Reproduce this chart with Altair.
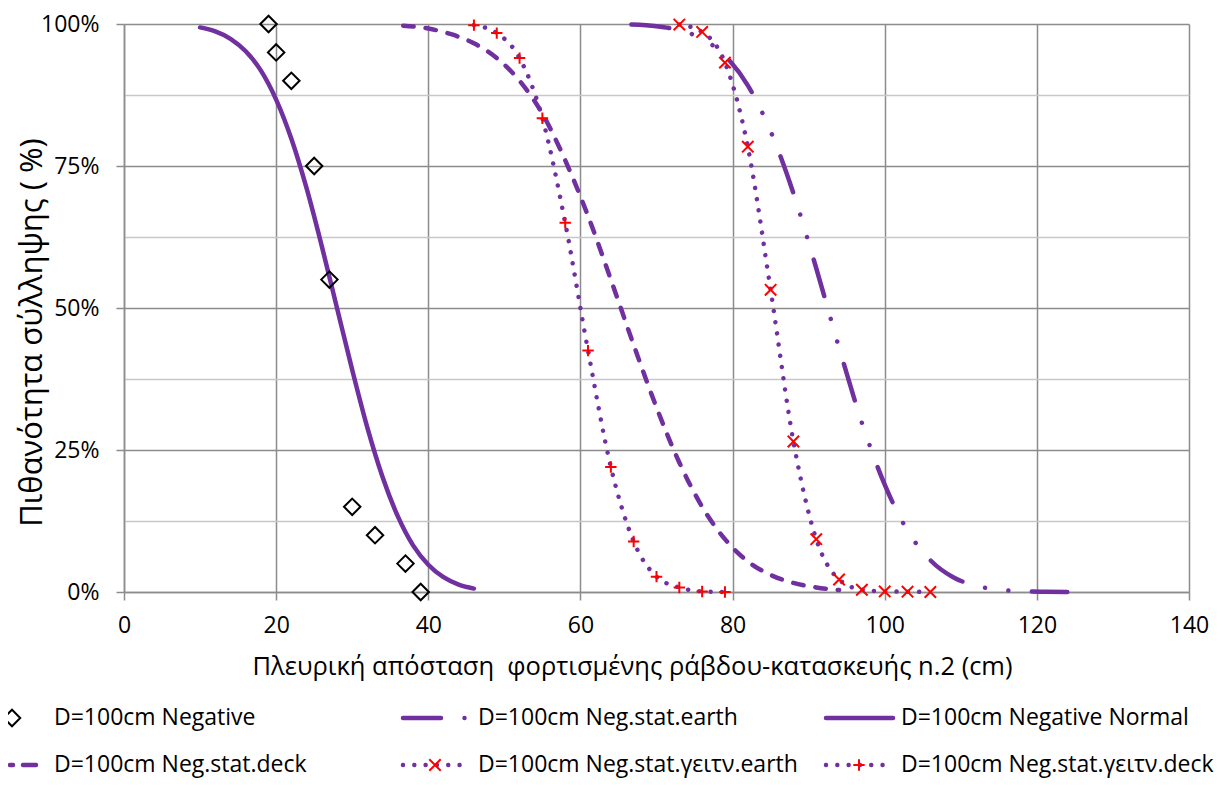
import altair as alt
import pandas as pd

# ---------------- data ----------------
neg_x = [19, 20, 22, 25, 27, 30, 33, 37, 39]
neg_y = [100, 95, 90, 75, 55, 15, 10, 5, 0]

normal_x = [10, 12, 14, 16, 18, 20, 22, 24, 26, 28, 30, 32, 34, 36, 38, 40, 42, 44, 46]
normal_y = [99.4, 98.7, 97.4, 95.2, 91.8, 86.7, 79.8, 71.1, 60.9, 50.0,
            39.1, 28.9, 20.2, 13.3, 8.2, 4.8, 2.6, 1.3, 0.6]

deck_x = [36.7, 40, 43, 46, 49, 52, 55, 58, 61, 64, 67, 70, 73, 76, 79, 82, 85, 88, 91, 94]
deck_y = [99.7, 99.2, 98.2, 96.6, 94.0, 90.0, 84.2, 76.0, 66.2, 55.0,
          43.5, 32.5, 22.8, 15.0, 9.3, 5.4, 3.0, 1.6, 0.8, 0.35]

earth_x = [66.7, 70, 73, 76, 79, 82, 85, 88, 91, 94, 97, 100, 103, 106, 109, 112, 115, 118, 121, 124]
earth_y = [99.9, 99.6, 98.9, 97.4, 94.4, 89.2, 81.1, 70.2, 57.0, 43.0,
           29.8, 18.9, 10.8, 5.6, 2.6, 1.1, 0.4, 0.13, 0.04, 0.01]

gdeck_x = [46, 49, 52, 55, 58, 61, 64, 67, 70, 73, 76, 79]
gdeck_y = [99.8, 98.4, 94.0, 83.4, 65.0, 42.5, 22.0, 8.9, 2.7, 0.8, 0.1, 0.0]

gearth_x = [73, 76, 79, 82, 85, 88, 91, 94, 97, 100, 103, 106]
gearth_y = [99.9, 98.6, 93.2, 78.4, 53.2, 26.5, 9.3, 2.2, 0.4, 0.1, 0.05, 0.0]

x_ticks = [0, 20, 40, 60, 80, 100, 120, 140]
y_ticks = [0, 12.5, 25, 37.5, 50, 62.5, 75, 87.5, 100]

labels = [
    "D=100cm Negative",
    "D=100cm Neg.stat.earth",
    "D=100cm Negative Normal",
    "D=100cm Neg.stat.deck",
    "D=100cm Neg.stat.γειτν.earth",
    "D=100cm Neg.stat.γειτν.deck",
]

x_title = "Πλευρική απόσταση\u00a0 φορτισμένης ράβδου-κατασκευής n.2 (cm)"
y_title = "Πιθανότητα σύλληψης ( %)"

# ---------------- styles ----------------
FONT = "Open Sans"
FS = 23
PURPLE = "#7030A0"
RED = "#FF0000"
G_MAJ = "#8c8c8c"
G_MIN = "#c8c8c8"
LW = 4.5
DASH = [10.5, 12]
DASHDOT = [38, 23.5, 0.01, 23.5, 0.01, 23.5]
DOT = [0.01, 11.3]
X_PATH = "M-1,-1L1,1M1,-1L-1,1"
PLUS_PATH = "M0,-1L0,1M-1,0L1,0"


def df(xs, ys):
    return pd.DataFrame({"x": xs, "y": ys})


x_enc = alt.X(
    "x:Q",
    scale=alt.Scale(domain=[0, 140], nice=False, zero=False),
    axis=alt.Axis(
        values=x_ticks, title=x_title, format="d",
        labelFont=FONT, labelFontSize=FS, labelColor="#000000", labelPadding=14,
        labelFlush=False, labelOverlap=False,
        tickSize=8, tickColor=G_MAJ, tickWidth=1.5,
        domainColor=G_MAJ, domainWidth=1.5,
        grid=True, gridColor=G_MAJ, gridWidth=1.5,
        titleFont=FONT, titleFontSize=25.5, titleFontWeight="normal", titleColor="#000000",
        titleX=508, titleY=82, titleAlign="center", titleBaseline="alphabetic",
    ),
)

y_enc = alt.Y(
    "y:Q",
    scale=alt.Scale(domain=[0, 100], nice=False, zero=False),
    axis=alt.Axis(
        values=y_ticks, title=y_title,
        labelExpr="datum.value % 25 === 0 ? datum.value + '%' : ''",
        labelFont=FONT, labelFontSize=FS, labelColor="#000000", labelPadding=17,
        labelFlush=False, labelOverlap=False,
        tickSize=8, tickWidth=1.5,
        tickColor={"condition": {"test": "datum.value % 25 === 0", "value": G_MAJ}, "value": "transparent"},
        domainColor=G_MAJ, domainWidth=1.5,
        grid=True, gridWidth=1.5,
        gridColor={"condition": {"test": "datum.value % 25 === 0", "value": G_MAJ}, "value": G_MIN},
        titleFont=FONT, titleFontSize=31, titleFontWeight="normal", titleColor="#000000",
        titleX=-83, titleY=308, titleAngle=270, titleAlign="center", titleBaseline="alphabetic",
    ),
)

line_kw = dict(color=PURPLE, strokeWidth=LW, strokeCap="round", strokeJoin="round",
               interpolate="monotone", clip=False)

normal_line = alt.Chart(df(normal_x, normal_y)).mark_line(**line_kw).encode(x=x_enc, y=y_enc)
deck_line = alt.Chart(df(deck_x, deck_y)).mark_line(strokeDash=DASH, **line_kw).encode(x=x_enc, y=y_enc)
earth_line = alt.Chart(df(earth_x, earth_y)).mark_line(strokeDash=DASHDOT, **line_kw).encode(x=x_enc, y=y_enc)
gdeck_line = alt.Chart(df(gdeck_x, gdeck_y)).mark_line(strokeDash=DOT, **line_kw).encode(x=x_enc, y=y_enc)
gearth_line = alt.Chart(df(gearth_x, gearth_y)).mark_line(strokeDash=DOT, **line_kw).encode(x=x_enc, y=y_enc)

gdeck_pts = alt.Chart(df(gdeck_x, gdeck_y)).mark_point(
    shape=PLUS_PATH, size=130, color=RED, strokeWidth=2, opacity=1, filled=False
).encode(x=x_enc, y=y_enc)
gearth_pts = alt.Chart(df(gearth_x, gearth_y)).mark_point(
    shape=X_PATH, size=130, color=RED, strokeWidth=2, opacity=1, filled=False
).encode(x=x_enc, y=y_enc)
neg_pts = alt.Chart(df(neg_x, neg_y)).mark_point(
    shape="diamond", size=270, color="#000000", strokeWidth=2, opacity=1, filled=False
).encode(x=x_enc, y=y_enc)

# ---------------- manual legend (below the plot) ----------------
one = pd.DataFrame({"k": [0]})
R1, R2 = 694, 741  # row centres, relative to plot top


def leg_rule(x0, x1, yy, dash=None):
    kw = dict(color=PURPLE, strokeWidth=LW, strokeCap="round")
    if dash is not None:
        kw["strokeDash"] = dash
    return alt.Chart(one).mark_rule(**kw).encode(
        x=alt.value(x0), x2=alt.value(x1), y=alt.value(yy))


def leg_sym(xx, yy, shape, color, size):
    return alt.Chart(one).mark_point(shape=shape, size=size, color=color, strokeWidth=2,
                                     opacity=1, filled=False).encode(
        x=alt.value(xx), y=alt.value(yy))


def leg_text(xx, yy, label):
    return alt.Chart(pd.DataFrame({"t": [label]})).mark_text(
        align="left", baseline="middle", font=FONT, fontSize=FS, color="#000000"
    ).encode(x=alt.value(xx), y=alt.value(yy), text="t:N")


legend_layers = [
    leg_sym(-112, R1, "diamond", "#000000", 270),
    leg_text(-70, R1, labels[0]),
    leg_rule(279, 345, R1, DASHDOT),
    leg_text(354, R1, labels[1]),
    leg_rule(702, 769, R1),
    leg_text(777, R1, labels[2]),
    leg_rule(-114, -88, R2, [3, 10, 14, 10]),
    leg_text(-70, R2, labels[3]),
    leg_rule(279, 336, R2, DOT),
    leg_sym(311, R2, X_PATH, RED, 130),
    leg_text(354, R2, labels[4]),
    leg_rule(702, 761, R2, DOT),
    leg_sym(735, R2, PLUS_PATH, RED, 130),
    leg_text(777, R2, labels[5]),
]

chart = alt.layer(
    normal_line, deck_line, earth_line, gdeck_line, gearth_line,
    gdeck_pts, gearth_pts, neg_pts, *legend_layers
).properties(
    width=1065, height=568,
    autosize=alt.AutoSizeParams(type="none"),
    padding={"left": 116, "top": 16, "right": 34, "bottom": 187},
).configure_view(stroke=None)

chart.save("out.html", embed_options={"renderer": "svg", "actions": False})
